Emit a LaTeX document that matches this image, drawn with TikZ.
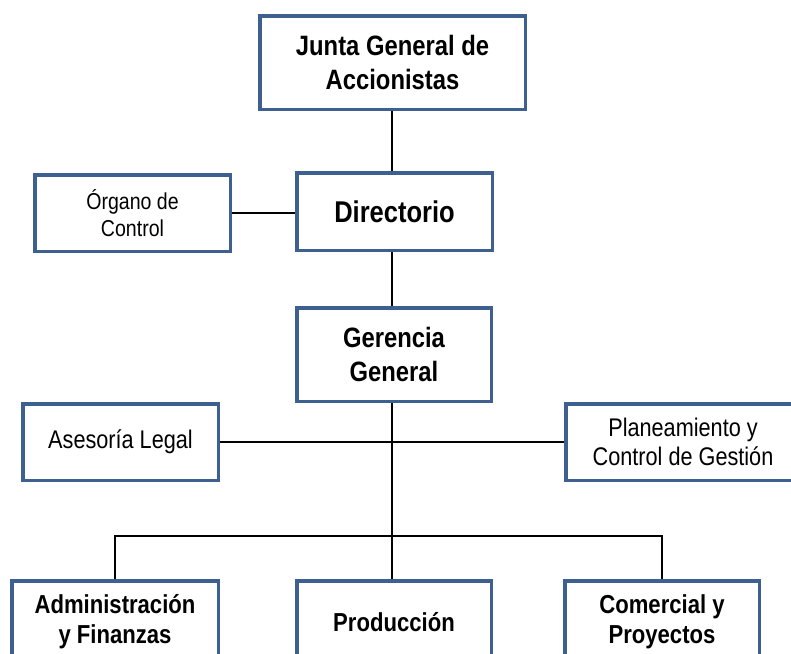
\documentclass[tikz,border=0pt]{standalone}
\usepackage{fontspec}
\setmainfont[FakeStretch=0.85]{Liberation Sans}
\definecolor{boxblue}{RGB}{62,96,145}
\tikzset{
  box/.style={draw=boxblue, line width=3.5pt, fill=white, rectangle, inner sep=0pt, align=center, text=black},
  bigb/.style={font=\fontsize{28}{34.5}\selectfont\bfseries},
  dirf/.style={font=\fontsize{30}{35}\selectfont\bfseries},
  botb/.style={font=\fontsize{26}{30}\selectfont\bfseries},
  regf/.style={font=\fontsize{25.5}{29.3}\selectfont},
  orgf/.style={font=\fontsize{23}{27}\selectfont},
  link/.style={draw=black, line width=1.8pt}
}
\begin{document}
\begin{tikzpicture}[x=1pt,y=-1pt]
\useasboundingbox (0,0) rectangle (791,653);
\clip (0,0) rectangle (791,653);
\fill[white] (0,0) rectangle (791,653);
\coordinate (spine) at (392,0);
\coordinate (bus) at (0,536);

\node[box,bigb,minimum width=265.5pt,minimum height=93.5pt] (junta) at (392.5,62.5) {Junta General de\\Accionistas};
\node[box,orgf,minimum width=195.5pt,minimum height=76.5pt] (org) at (132.5,213) {Órgano de\\Control};
\node[box,dirf,minimum width=195.5pt,minimum height=77.5pt] (dir) at (394.5,211.5) {Directorio};
\node[box,bigb,minimum width=194.5pt,minimum height=93.5pt] (ger) at (394,354.5) {Gerencia\\General};
\node[box,regf,minimum width=195.5pt,minimum height=76.5pt] (ases) at (120.5,442) {Asesoría Legal};
\node[box,regf,minimum width=234.5pt,minimum height=76.5pt] (plan) at (683,442) {Planeamiento y\\Control de Gestión};
\node[box,botb,minimum width=206.5pt,minimum height=82.5pt] (admin) at (115,622) {Administración\\y Finanzas};
\node[box,botb,minimum width=194.5pt,minimum height=82.5pt] (prod) at (394,622) {Producción};
\node[box,botb,minimum width=194.5pt,minimum height=82.5pt] (com) at (662,622) {Comercial y\\Proyectos};

\draw[link] (junta.south -| spine) -- (dir.north -| spine);
\draw[link] (org.east) -- (org.east -| dir.west);
\draw[link] (dir.south -| spine) -- (ger.north -| spine);
\draw[link] (ases.east) -- (plan.west);
\draw[link] (ger.south -| spine) -- (prod.north -| spine);
\draw[link] (admin.north) |- (bus -| spine) -| (com.north);
\end{tikzpicture}
\end{document}
